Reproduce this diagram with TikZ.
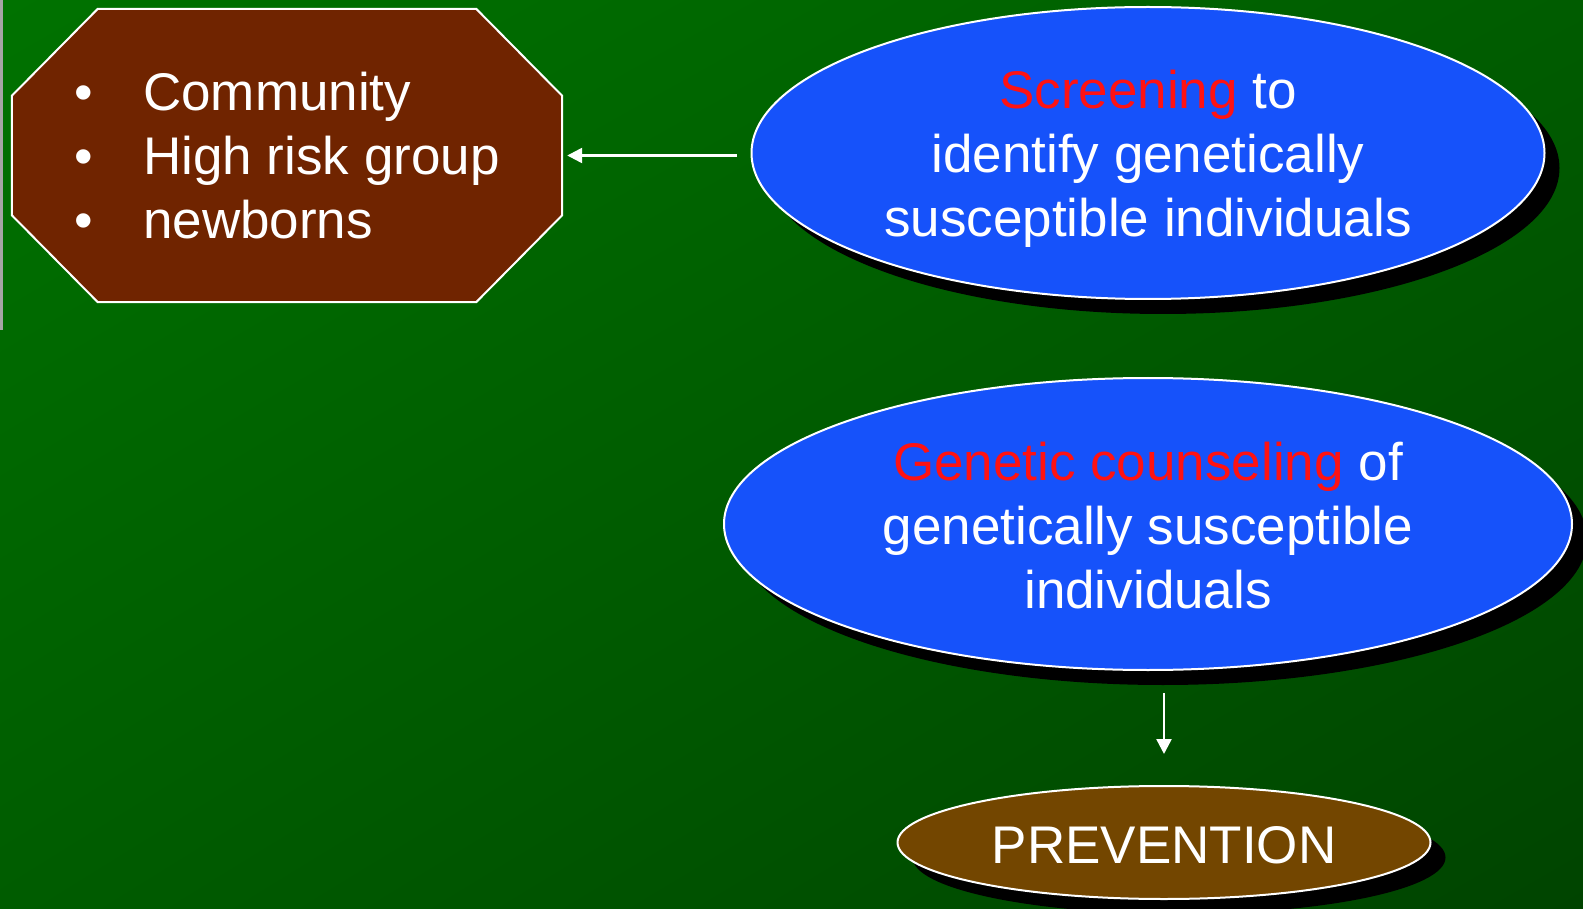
\documentclass[tikz,border=0pt]{standalone}
\usepackage{fontspec}
\setmainfont{Liberation Sans}
\usetikzlibrary{shapes.geometric,shadows,shadings,arrows.meta,calc}
\definecolor{bgA}{RGB}{0,114,0}
\definecolor{bgB}{RGB}{0,92,0}
\definecolor{bgC}{RGB}{0,68,0}
\definecolor{octbrown}{RGB}{112,36,0}
\definecolor{ellblue}{RGB}{22,82,250}
\definecolor{prevbrown}{RGB}{115,70,0}
\definecolor{hired}{RGB}{255,18,18}
\definecolor{edgegray}{RGB}{165,165,165}
\tikzset{
  bigtext/.style={font=\fontsize{53}{64}\selectfont, text=white},
  ellbox/.style={ellipse, draw=white, line width=2pt, inner sep=0pt,
    drop shadow={shadow xshift=15pt, shadow yshift=-15pt, fill=black, opacity=1}},
  elltext/.style={bigtext, align=center, inner sep=0pt},
  connector/.style={draw=white, line width=2.5pt, -{Triangle[length=15pt,width=15pt]}},
}
\begin{document}
\begin{tikzpicture}[x=1pt,y=-1pt]
\useasboundingbox (0,0) rectangle (1583,909);
\shade[upper left=bgA, upper right=bgB, lower left=bgB, lower right=bgC] (0,0) rectangle (1583,909);
\fill[edgegray] (0,0) rectangle (3,330);
% octagon
\node[minimum width=550pt, minimum height=293pt, inner sep=0pt] (oct) at (287,155.5) {};
\draw[fill=octbrown, draw=white, line width=2pt]
  ($(oct.north west)+(86,0)$) -- ($(oct.north east)+(-86,0)$) -- ($(oct.north east)+(0,87)$)
  -- ($(oct.south east)+(0,-87)$) -- ($(oct.south east)+(-86,0)$) -- ($(oct.south west)+(86,0)$)
  -- ($(oct.south west)+(0,-87)$) -- ($(oct.north west)+(0,87)$) -- cycle;
\node[bigtext, anchor=base west, inner sep=0pt] (l1) at (74,111) {\makebox[69pt][l]{•}Community};
\node[bigtext, anchor=base west, inner sep=0pt] (l2) at (74,175) {\makebox[69pt][l]{•}High risk group};
\node[bigtext, anchor=base west, inner sep=0pt] (l3) at (74,239) {\makebox[69pt][l]{•}newborns};
% ellipses
\node[ellbox, fill=ellblue, minimum width=793pt, minimum height=292pt] (e1) at (1148,153) {};
\node[elltext] (t1) at ($(e1.center)+(0,6)$)
  {\textcolor{hired}{Screening} to\\identify genetically\\susceptible individuals};
\node[ellbox, fill=ellblue, minimum width=848pt, minimum height=292pt] (e2) at (1148,524) {};
\node[elltext] (t2) at ($(e2.center)+(0,1.5)$)
  {\textcolor{hired}{Genetic counseling} of\\genetically susceptible\\individuals};
\node[ellbox, fill=prevbrown, minimum width=533pt, minimum height=113pt] (prev) at (1164,842.5) {};
\node[elltext] (t3) at ($(prev.center)+(0,3)$) {PREVENTION};
% connectors
\draw[connector, shorten <=14pt, shorten >=5pt] (e1.west |- oct.east) -- (oct.east);
\draw[connector, shorten <=22pt, shorten >=31pt] (e2.south -| prev.north) -- (prev.north);
\end{tikzpicture}
\end{document}
